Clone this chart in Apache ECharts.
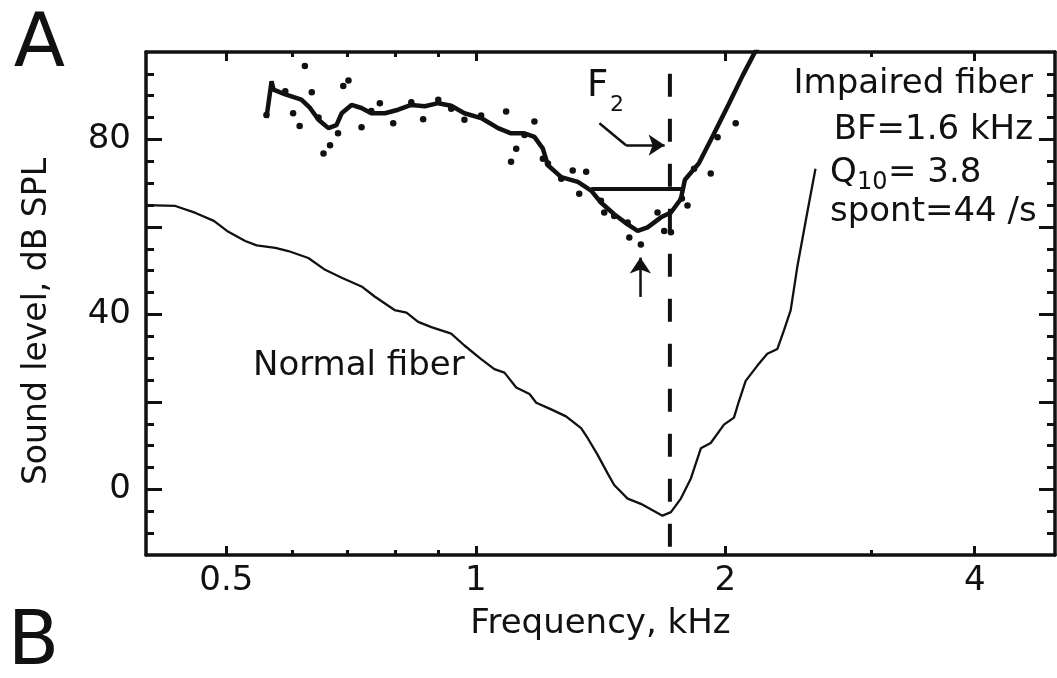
<!DOCTYPE html>
<html>
<head>
<meta charset="utf-8">
<title>Tuning curves: impaired vs normal fiber</title>
<script src="https://cdn.jsdelivr.net/npm/echarts@6/dist/echarts.min.js"></script>
<style>
  html, body { margin: 0; padding: 0; background: #fff; }
  #main { width: 1057px; height: 678px; }
</style>
</head>
<body>
<div id="main"></div>
<script>
// normal fiber tuning curve (kHz, dB SPL)
var freqNormal = [0.40, 0.434, 0.459, 0.483, 0.501, 0.527, 0.544, 0.573, 0.594, 0.628, 0.658, 0.689, 0.728, 0.755, 0.798, 0.825, 0.852, 0.884, 0.934, 0.969, 1.015, 1.053, 1.083, 1.119, 1.161, 1.183, 1.233, 1.285, 1.340, 1.365, 1.403, 1.443, 1.469, 1.525, 1.582, 1.680, 1.720, 1.768, 1.818, 1.869, 1.921, 1.993, 2.049, 2.078, 2.117, 2.187, 2.248, 2.312, 2.355, 2.399, 2.444, 2.512, 2.570];
var levelNormal = [65.0, 64.8, 63.2, 61.4, 59.1, 56.8, 55.8, 55.2, 54.5, 52.9, 50.2, 48.4, 46.4, 44.1, 41.0, 40.4, 38.3, 37.1, 35.6, 32.9, 29.8, 27.5, 26.7, 23.3, 21.8, 19.8, 18.3, 16.7, 14.0, 11.7, 7.9, 3.6, 1.0, -2.1, -3.3, -6.0, -5.2, -2.1, 2.5, 9.4, 10.6, 14.8, 16.4, 20.2, 24.8, 28.3, 31.0, 32.1, 36.4, 41.0, 51.0, 63.3, 73.3];

// impaired fiber, smoothed curve
var freqImpaired = [0.559, 0.567, 0.570, 0.589, 0.616, 0.631, 0.646, 0.664, 0.679, 0.689, 0.708, 0.728, 0.748, 0.777, 0.806, 0.836, 0.868, 0.901, 0.934, 0.969, 1.015, 1.064, 1.103, 1.145, 1.177, 1.205, 1.222, 1.268, 1.328, 1.378, 1.416, 1.469, 1.525, 1.568, 1.612, 1.673, 1.720, 1.768, 1.788, 1.858, 1.937, 2.020, 2.099, 2.164, 2.19];
var levelImpaired = [84.9, 93.3, 91.4, 90.3, 89.1, 87.2, 84.5, 82.6, 83.3, 86.0, 87.9, 87.2, 86.0, 86.0, 86.8, 87.9, 87.6, 88.3, 87.7, 86.0, 84.9, 82.6, 81.4, 81.4, 80.6, 77.9, 74.1, 71.4, 70.3, 68.3, 65.6, 62.9, 60.6, 59.1, 59.9, 62.2, 63.3, 66.4, 70.8, 74.5, 81.2, 88.1, 94.6, 99.4, 101];

// impaired fiber, raw threshold points
var freqDots = [0.622, 0.692, 0.702, 0.634, 0.602, 0.613, 0.559, 0.667, 0.655, 0.682, 0.728, 0.766, 0.795, 0.864, 0.901, 0.969, 1.088, 1.119, 1.103, 1.177, 1.205, 1.268, 1.309, 1.359, 1.333, 1.429, 1.469, 1.532, 1.582, 1.657, 1.688, 1.720, 1.801, 1.834, 1.921, 2.059, 0.589, 0.646, 0.748, 0.836, 0.934, 1.015, 1.145, 1.222, 1.416, 1.525, 1.773, 1.958];
var levelDots = [96.8, 92.2, 93.5, 90.8, 86.0, 83.1, 85.6, 78.7, 76.8, 81.4, 82.8, 88.3, 83.7, 84.6, 89.1, 84.5, 86.4, 77.9, 74.9, 84.1, 75.6, 71.0, 72.9, 72.6, 67.6, 63.3, 62.5, 57.6, 56.0, 63.3, 59.1, 58.8, 64.9, 73.3, 72.2, 83.7, 91.0, 85.0, 86.5, 88.5, 87.0, 85.5, 81.0, 74.5, 66.0, 61.0, 66.5, 80.5];

// Q10 bandwidth line, 10 dB above threshold
var q10Freq = [1.378, 1.788];
var q10Level = 68.7;

// F2 marker frequency
var f2Freq = 1.715;

// ticks
var xMajor = [0.5, 1, 2, 4];
var xMinor = [0.6, 0.7, 0.8, 0.9, 3];
var yLabels = [0, 40, 80];
var yMajor = [0, 20, 40, 60, 80];
var yMinor = [-10, -5, 5, 10, 15, 25, 30, 35, 45, 50, 55, 65, 70, 75, 85, 90, 95];

function pairs(xs, ys) {
    return xs.map(function (x, i) { return [x, ys[i]]; });
}

var font = 'DejaVu Sans';
var ink = '#111';
var chart = echarts.init(document.getElementById('main'));

function xAx(grid, pos, ticks, len, line, labels) {
    return {
        type: 'log', logBase: 2, min: 0.4, max: 5,
        gridIndex: grid, position: pos,
        axisLine: { show: line, onZero: false, lineStyle: { color: ink, width: 3.5 } },
        axisTick: { show: true, inside: true, length: len, customValues: ticks, lineStyle: { color: ink, width: 3 } },
        axisLabel: labels ? {
            show: true, customValues: ticks, margin: 9, color: ink, fontSize: 34, fontFamily: font,
            formatter: function (v) { return String(+v.toFixed(2)); }
        } : { show: false },
        splitLine: { show: false },
        minorTick: { show: false }
    };
}

function yAx(grid, pos, ticks, len, line, labels) {
    return {
        type: 'value', min: -15, max: 100,
        gridIndex: grid, position: pos,
        axisLine: { show: line, onZero: false, lineStyle: { color: ink, width: 3.5 } },
        axisTick: { show: true, inside: true, length: len, customValues: ticks, lineStyle: { color: ink, width: 3 } },
        axisLabel: labels ? {
            show: true, customValues: yLabels, margin: 15, color: ink, fontSize: 34, fontFamily: font
        } : { show: false },
        splitLine: { show: false }
    };
}

function txt(s, x, y, size, align) {
    return { type: 'text', style: { text: s, x: x, y: y, align: align || 'left', verticalAlign: 'middle', font: size + 'px "DejaVu Sans"', fill: ink } };
}

var gridBox = { left: 146, right: 2, top: 52, bottom: 123 };

var xBottom = xAx(0, 'bottom', xMajor, 9, true, true);
xBottom.name = 'Frequency, kHz';
xBottom.nameLocation = 'middle';
xBottom.nameGap = 52;
xBottom.nameTextStyle = { color: ink, fontSize: 34, fontFamily: font };

var yLeft = yAx(0, 'left', yMajor, 16, true, true);
yLeft.name = 'Sound level, dB SPL';
yLeft.nameLocation = 'middle';
yLeft.nameGap = 92;
yLeft.nameTextStyle = { color: ink, fontSize: 33, fontFamily: font, padding: [0, 36, 0, 0] };

var arrowLine = { color: ink, width: 2.5, type: 'solid' };

option = {
    animation: false,
    backgroundColor: '#fff',
    grid: [
        Object.assign({}, gridBox),
        Object.assign({}, gridBox)
    ],
    xAxis: [
        xBottom,
        xAx(0, 'top', xMajor, 9, true, false),
        xAx(1, 'bottom', xMinor, 5, false, false),
        xAx(1, 'top', xMinor, 5, false, false)
    ],
    yAxis: [
        yLeft,
        yAx(0, 'right', yMajor, 16, true, false),
        yAx(1, 'left', yMinor, 8, false, false),
        yAx(1, 'right', yMinor, 8, false, false)
    ],
    graphic: [
        txt('A', 39.5, 46.5, 75, 'center'),
        txt('B', 33.5, 645, 75, 'center'),
        txt('Normal fiber', 253, 366, 34),
        txt('Impaired fiber', 1033, 84, 34, 'right'),
        txt('BF=1.6 kHz', 1033, 130, 34, 'right'),
        txt('Q', 830, 173, 34),
        txt('10', 857, 183, 24),
        txt('= 3.8', 888, 173, 34),
        txt('spont=44 /s', 830, 212, 34),
        txt('F', 587, 86, 37),
        txt('2', 610, 105, 22)
    ],
    series: [
        {
            name: 'Normal fiber', type: 'line', xAxisIndex: 0, yAxisIndex: 0,
            data: pairs(freqNormal, levelNormal),
            showSymbol: false, lineStyle: { color: ink, width: 2.3 }
        },
        {
            name: 'Impaired fiber', type: 'line', xAxisIndex: 0, yAxisIndex: 0,
            data: pairs(freqImpaired, levelImpaired),
            showSymbol: false, lineStyle: { color: ink, width: 4.5 }
        },
        {
            name: 'Impaired points', type: 'scatter', xAxisIndex: 0, yAxisIndex: 0,
            data: pairs(freqDots, levelDots),
            symbolSize: 6.5, itemStyle: { color: ink, opacity: 1 }
        },
        {
            name: 'Q10', type: 'line', xAxisIndex: 0, yAxisIndex: 0,
            data: [[q10Freq[0], q10Level], [q10Freq[1], q10Level]],
            showSymbol: false, lineStyle: { color: ink, width: 4 }
        },
        {
            name: 'F2', type: 'line', xAxisIndex: 0, yAxisIndex: 0,
            data: [[f2Freq, 95], [f2Freq, -15]],
            showSymbol: false, lineStyle: { color: ink, width: 4, type: [23, 22] },
            markLine: {
                silent: true,
                symbolSize: 16,
                label: { show: false },
                lineStyle: arrowLine,
                data: [
                    [{ coord: [1.41, 83.7], symbol: 'none' }, { coord: [1.518, 78.7], symbol: 'none' }],
                    [{ coord: [1.518, 78.7], symbol: 'none' }, { coord: [1.69, 78.7], symbol: 'arrow' }],
                    [{ coord: [1.58, 44], symbol: 'none' }, { coord: [1.58, 53], symbol: 'arrow' }]
                ]
            }
        }
    ]
};

chart.setOption(option);
window.addEventListener('resize', function () {
    chart.resize();
});
</script>
</body>
</html>
